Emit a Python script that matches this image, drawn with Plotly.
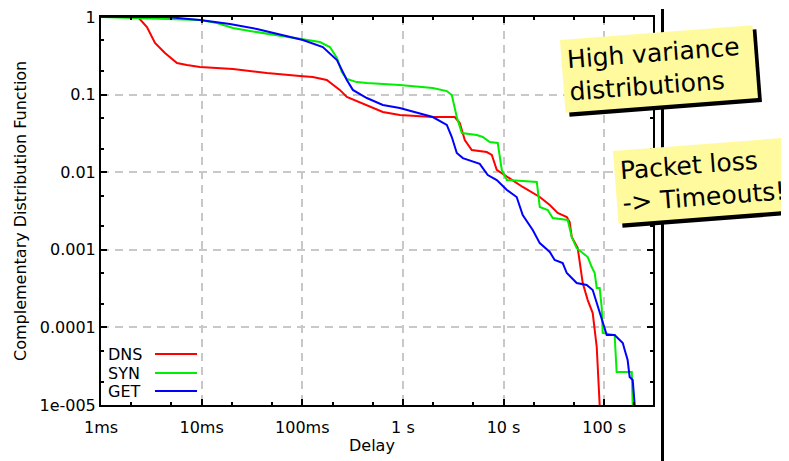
import plotly.graph_objects as go

# ---- data (delay in seconds, CCDF) ----
dns_x = [0.001, 0.00233, 0.00286, 0.00344, 0.00432, 0.00484, 0.00569, 0.00714, 0.00962, 0.0205,
         0.0445, 0.0947, 0.127, 0.175, 0.221, 0.236, 0.277, 0.438, 0.632, 0.931,
         1.98, 3.28, 3.67, 4.12, 4.83, 6.81, 7.64, 8.56, 9.17, 11.5,
         15.5, 22.9, 28.8, 34.5, 42.5, 45.4, 47.6, 54.6, 61.2, 68.6,
         76.9, 84.3, 86.3, 90.2]
dns_y = [1, 1, 0.743, 0.462, 0.344, 0.305, 0.255, 0.241, 0.227, 0.214,
         0.190, 0.174, 0.169, 0.154, 0.125, 0.115, 0.0931, 0.0734, 0.0597, 0.0546,
         0.0514, 0.0514, 0.0430, 0.0260, 0.0193, 0.0182, 0.0167, 0.0107, 0.0101, 0.00841,
         0.00645, 0.00479, 0.00378, 0.00298, 0.00265, 0.00228, 0.00146, 0.00105, 0.000373, 0.000225,
         0.000153, 0.0000559, 0.0000258, 0.00001]

syn_x = [0.001, 0.00208, 0.00962, 0.0142, 0.0205, 0.0302, 0.0560, 0.0947, 0.150, 0.188,
         0.221, 0.247, 0.277, 0.348, 0.438, 0.931, 1.98, 2.73, 3.06, 3.43,
         3.85, 5.42, 6.21, 7.29, 8.76, 9.60, 10.8, 21.4, 22.9, 27.5,
         30.8, 43.4, 45.4, 47.6, 53.3, 68.6, 75.2, 80.5, 84.3, 90.2,
         94.4, 96.6, 127, 133, 188, 192]
syn_y = [1, 0.971, 0.915, 0.837, 0.721, 0.660, 0.586, 0.520, 0.476, 0.410,
         0.296, 0.196, 0.159, 0.145, 0.141, 0.133, 0.122, 0.111, 0.0988, 0.0514,
         0.0320, 0.0301, 0.0284, 0.0245, 0.0238, 0.0107, 0.00793, 0.00748, 0.00356, 0.00326,
         0.00257, 0.00242, 0.00180, 0.00146, 0.00105, 0.000807, 0.000600, 0.000502, 0.000322, 0.000322,
         0.000183, 0.0000847, 0.0000798, 0.0000266, 0.0000266, 0.00001]

get_x = [0.001, 0.00452, 0.00962, 0.0191, 0.0354, 0.0642, 0.1014, 0.160, 0.221, 0.277,
         0.318, 0.438, 0.632, 0.931, 1.37, 1.98, 2.73, 3.06, 3.43, 3.94,
         5.80, 6.97, 8.56, 10.8, 13.5, 15.5, 19.5, 22.9, 28.8, 32.2,
         38.7, 42.5, 53.3, 67.0, 76.9, 84.3, 90.2, 106, 127, 153,
         160, 171, 179, 192, 201]
get_y = [1, 1, 0.915, 0.812, 0.700, 0.586, 0.505, 0.410, 0.279, 0.154,
         0.115, 0.0904, 0.0734, 0.0672, 0.0579, 0.0514, 0.0406, 0.0284, 0.0177, 0.0152,
         0.0128, 0.00920, 0.00793, 0.00590, 0.00479, 0.00281, 0.00180, 0.00122, 0.000937, 0.000739,
         0.000676, 0.000502, 0.000373, 0.000352, 0.000303, 0.000206, 0.000153, 0.0000798, 0.0000798, 0.0000630,
         0.0000512, 0.0000380, 0.0000230, 0.0000210, 0.00001]

series_names = ["DNS", "SYN", "GET"]
series_colors = ["#ff0000", "#00ee00", "#0000ff"]

x_tick_vals = [0.001, 0.01, 0.1, 1, 10, 100]
x_tick_text = ["1ms", "10ms", "100ms", "1 s", "10 s", "100 s"]
y_tick_vals = [1, 0.1, 0.01, 0.001, 0.0001, 0.00001]
y_tick_text = ["1", "0.1", "0.01", "0.001", "0.0001", "1e-005"]

note1 = "High variance<br>distributions"
note2 = "Packet loss<br>-> Timeouts!"

FONT = "DejaVu Sans"

fig = go.Figure()
for name, xs, ys, col in zip(series_names, [dns_x, syn_x, get_x], [dns_y, syn_y, get_y], series_colors):
    fig.add_trace(go.Scatter(x=xs, y=ys, mode="lines", name=name,
                             line=dict(color=col, width=2), showlegend=False))

axis_common = dict(
    type="log", showline=True, linecolor="black", linewidth=2, mirror="ticks",
    ticks="inside", ticklen=6, tickwidth=1.5, tickcolor="black",
    showgrid=True, gridcolor="#c8c8c8", gridwidth=1.5, griddash="8px,6px",
    zeroline=False, tickfont=dict(family=FONT, size=16, color="black"),
    ticklabeloverflow="allow",
    minor=dict(ticks="inside", ticklen=3, tickcolor="black", dtick="D2", showgrid=False),
)

fig.update_xaxes(range=[-3, 2.485], tickvals=x_tick_vals, ticktext=x_tick_text,
                 ticklabelstandoff=7, **axis_common)
fig.update_yaxes(range=[-5, 0], tickvals=y_tick_vals, ticktext=y_tick_text, **axis_common)

# page geometry (the page body has an 8px margin)
W, H = 789, 461
OFF = 8
L, R, T, B = 101, 653, 17, 405
pw, ph = R - L, B - T

def px(x):
    return (x - L) / pw

def py(y):
    return (B - y) / ph

annotations = [
    dict(text="Complementary Distribution Function", x=px(20), y=py(211), xref="paper", yref="paper",
         textangle=-90, showarrow=False, xanchor="center", yanchor="middle",
         font=dict(family=FONT, size=16, color="black")),
    dict(text="Delay", x=px(372), y=py(445), xref="paper", yref="paper", showarrow=False,
         xanchor="center", yanchor="middle", font=dict(family=FONT, size=16, color="black")),
]
legend_y = [354, 373, 391]
shapes = []
for name, col, ly in zip(series_names, series_colors, legend_y):
    annotations.append(dict(text=name, x=px(106), y=py(ly), xref="paper", yref="paper",
                            showarrow=False, xanchor="left", yanchor="middle",
                            font=dict(family=FONT, size=16, color="black")))
    shapes.append(dict(type="line", xref="paper", yref="paper", x0=px(155), x1=px(197),
                       y0=py(ly), y1=py(ly), line=dict(color=col, width=2)))

# vertical divider
shapes.append(dict(type="line", xref="paper", yref="paper", x0=px(662.5), x1=px(662.5),
                   y0=py(470), y1=py(9), line=dict(color="black", width=3), layer="above"))

YELLOW = "#fffa9e"
for text, cx, cy in [(note1, 658.5, 69.5), (note2, 712, 180.5)]:
    for shadow in (True, False):
        annotations.append(dict(
            text=text, x=px(cx), y=py(cy), xref="paper", yref="paper", showarrow=False,
            xanchor="center", yanchor="middle", textangle=-4.4, align="left", valign="middle",
            width=182, height=62, borderpad=5,
            bgcolor="black" if shadow else YELLOW,
            xshift=4 if shadow else 0, yshift=-4 if shadow else 0,
            font=dict(family=FONT, size=25, color="black")))

fig.update_layout(
    width=W, height=H,
    margin=dict(l=L - OFF, r=W - (R - OFF), t=T - OFF, b=H - (B - OFF), autoexpand=False),
    paper_bgcolor="white", plot_bgcolor="white",
    annotations=annotations, shapes=shapes, showlegend=False,
)

fig.write_html("out.html")
